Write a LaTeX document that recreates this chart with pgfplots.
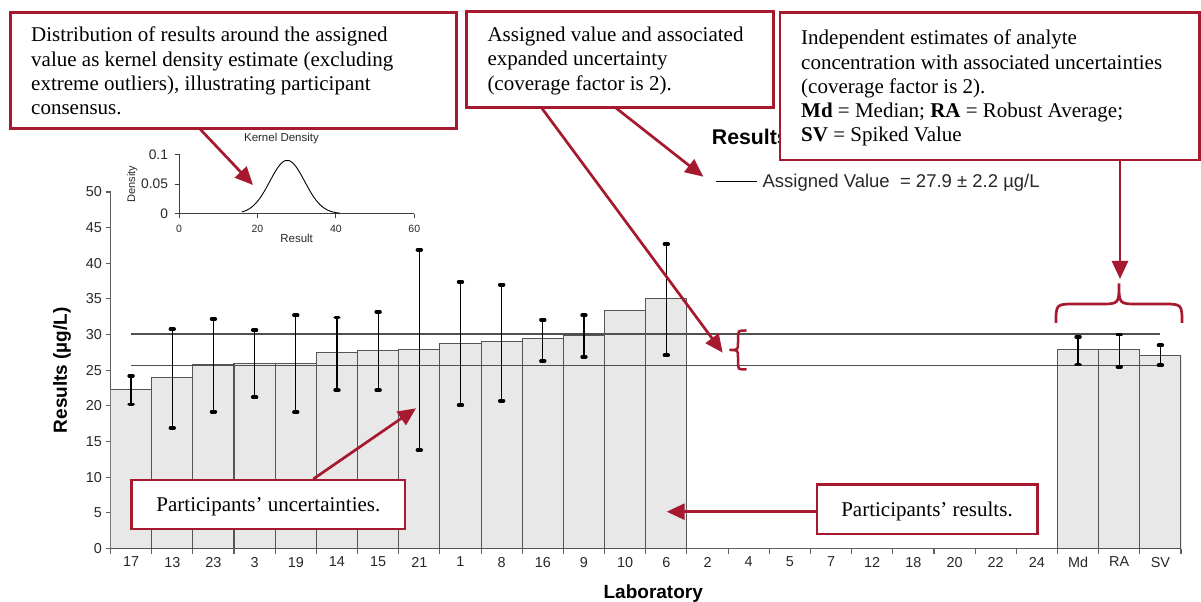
\documentclass[border=0pt]{standalone}
\usepackage{fontspec}
\setmainfont{Liberation Sans}
\newfontfamily\tnr{Liberation Serif}
\usepackage{pgfplots}
\usepackage{pgfplotstable}
\pgfplotsset{compat=1.18}
\usetikzlibrary{arrows.meta}

\definecolor{annored}{RGB}{166,25,46}
\definecolor{barfill}{RGB}{232,232,232}
\definecolor{bargray}{RGB}{85,85,85}
\definecolor{axisgray}{RGB}{95,95,95}
\definecolor{linegray}{RGB}{80,80,80}
\definecolor{ticktext}{RGB}{40,40,40}

% laboratory results, in plotting order (index 0..25)
\pgfplotstableread{
x y
0 22.3
1 24.0
2 25.8
3 26.0
4 26.0
5 27.5
6 27.8
7 27.9
8 28.8
9 29.0
10 29.4
11 29.9
12 33.4
13 35.0
23 27.9
24 27.9
25 27.1
}\barsdata

% expanded uncertainties (upper / lower half-widths)
\pgfplotstableread{
x y ep em
0 22.3 1.9 2.1
1 24.0 6.8 7.1
2 25.8 6.4 6.6
3 26.0 4.6 4.8
4 26.0 6.7 6.9
5 27.5 4.9 5.3
6 27.8 5.4 5.6
7 27.9 14.0 14.1
8 28.8 8.6 8.7
9 29.0 8.0 8.3
10 29.4 2.7 3.1
11 29.9 2.8 3.0
13 35.0 7.7 7.9
23 27.9 1.8 2.1
24 27.9 2.1 2.4
25 27.1 1.4 1.4
}\errdata

% kernel density estimate of the results
\pgfplotstableread{
x d
16 0.0029
17 0.0051
18 0.0086
19 0.0137
20 0.0207
21 0.0297
22 0.0405
23 0.0525
24 0.0647
25 0.0758
26 0.0843
27 0.0892
28 0.0896
29 0.0856
30 0.0777
31 0.0670
32 0.0550
33 0.0428
34 0.0317
35 0.0223
36 0.0149
37 0.0095
38 0.0057
39 0.0033
40 0.0018
41 0.0009
}\kdedata

\begin{document}
\begin{tikzpicture}
\useasboundingbox (0,0) rectangle (1201bp,602bp);

\begin{axis}[
  at={(110.5bp,53.5bp)}, anchor=south west,
  scale only axis, width=1070.5bp, height=356.5bp,
  xmin=-0.5, xmax=25.5, ymin=0, ymax=50,
  axis x line*=bottom, axis y line*=left,
  axis line style={draw=axisgray, line width=1.1bp, -},
  tick align=outside, major tick length=5bp,
  tick style={draw=axisgray, line width=1.1bp},
  xtick={-0.5,0.5,...,25.5},
  x tick label as interval,
  xticklabels={17,13,23,3,19,14,15,21,1,8,16,9,10,6,2,4,5,7,12,18,20,22,24,Md,RA,SV},
  ytick={0,5,...,50},
  /pgf/number format/assume math mode=true,
  tick label style={font=\fontsize{14.4bp}{17bp}\selectfont, text=ticktext},
  xlabel={Laboratory}, ylabel={Results (µg/L)},
  label style={font=\bfseries\fontsize{19bp}{22bp}\selectfont},
  xlabel style={at={(axis description cs:0.507,-0.1389)}, anchor=base},
  ylabel style={at={(axis description cs:-0.0408,0.5)}, anchor=base},
  legend style={at={(0.5647,1.0289)}, anchor=west, draw=none, fill=none,
    inner sep=0pt, outer sep=0pt, column sep=5.3bp, nodes={inner sep=0pt},
    font=\fontsize{18.5bp}{21bp}\selectfont, text=ticktext},
  legend image code/.code={\draw[black, line width=1.6bp] (0bp,0bp) -- (40.7bp,0bp);},
]
\addplot[forget plot, ybar, bar width=1, fill=barfill, draw=bargray, line width=1.1bp]
  table[x=x, y=y] {\barsdata};
\addplot[draw=linegray, line width=1.3bp] coordinates {(0,30.1) (25,30.1)};
\addlegendentry{Assigned Value\ \ = 27.9 ± 2.2 µg/L}
\addplot[forget plot, draw=linegray, line width=1.3bp] coordinates {(0,25.7) (25,25.7)};
\addplot[forget plot, draw=none, mark=none,
  error bars/.cd, y dir=both, y explicit,
  error bar style={draw=black, line width=1.2bp},
  error mark=|, error mark options={draw=black, line width=3.8bp, line cap=round, mark size=1.8bp}]
  table[x=x, y=y, y error plus=ep, y error minus=em] {\errdata};
\end{axis}

% inset: kernel density
\begin{axis}[
  at={(179bp,388.3bp)}, anchor=south west,
  scale only axis, width=235.3bp, height=59.4bp,
  xmin=0, xmax=60, ymin=0, ymax=0.1,
  axis x line*=bottom, axis y line*=left,
  axis line style={draw=black!75, line width=0.9bp, -},
  tick align=outside, major tick length=4.5bp,
  tick style={draw=black!75, line width=0.9bp},
  xtick={0,20,40,60}, ytick={0,0.05,0.1}, yticklabels={0,0.05,0.1},
  /pgf/number format/assume math mode=true,
  x tick label style={font=\fontsize{10.5bp}{12bp}\selectfont, text=ticktext, yshift=-3bp},
  y tick label style={font=\fontsize{13.8bp}{16bp}\selectfont, text=ticktext, xshift=-3bp},
  title={Kernel Density},
  title style={at={(axis description cs:0.4356,1.12)}, anchor=base,
    font=\fontsize{11.5bp}{13bp}\selectfont, text=ticktext},
  xlabel={Result},
  xlabel style={at={(axis description cs:0.5,-0.485)}, anchor=base,
    font=\fontsize{11.5bp}{13bp}\selectfont, text=ticktext},
  ylabel={Density},
  ylabel style={at={(axis description cs:-0.187,0.5)}, anchor=base,
    font=\fontsize{11bp}{13bp}\selectfont, text=ticktext},
]
\addplot[black, line width=0.9bp, smooth] table[x=x, y=d] {\kdedata};
\end{axis}

% callouts
\begin{scope}[yshift=602bp, x=1bp, y=-1bp]
  \tikzset{
    box/.style={draw=annored, line width=2.7bp, fill=white},
    arr/.style={draw=annored, line width=2.7bp, -{Triangle[length=18bp,width=16bp]}},
    txt/.style={anchor=base west, inner sep=0pt, font=\tnr\fontsize{21bp}{24bp}\selectfont},
  }
  \node[anchor=base west, inner sep=0pt, font=\bfseries\fontsize{21.3bp}{24bp}\selectfont]
    at (711.7,145) {Results};

  \draw[arr] (200,129) -- (253,185);
  \draw[arr] (541.7,108) -- (722.7,352.7);
  \draw[arr] (616,108) -- (703.3,176.7);
  \draw[arr] (1120,161) -- (1120,279);
  \draw[arr] (313.3,479) -- (416,408.3);
  \draw[arr] (816,511.7) -- (666.7,511.7);

  \draw[draw=annored, line width=2.5bp]
    (746.5,330.5) .. controls (738,330.5) .. (738,338) -- (738,343)
    .. controls (738,350) .. (729.5,350) .. controls (738,350) .. (738,357)
    -- (738,362) .. controls (738,369.5) .. (746.5,369.5);
  \draw[draw=annored, line width=2.7bp]
    (1056,323) .. controls (1056,304) .. (1076,304) -- (1100,304)
    .. controls (1119,304) .. (1119,283.5) .. controls (1119,304) .. (1138,304)
    -- (1162,304) .. controls (1182,304) .. (1182,323);

  \draw[box] (10.5,12.5) rectangle (456.5,128.5);
  \node[txt] at (31,41.7) {Distribution of results around the assigned};
  \node[txt] at (31,66.1) {value as kernel density estimate (excluding};
  \node[txt] at (31,90.5) {extreme outliers), illustrating participant};
  \node[txt] at (31,114.9) {consensus.};

  \draw[box] (466.5,11.5) rectangle (773.5,107.5);
  \node[txt] at (487.3,41.7) {Assigned value and associated};
  \node[txt] at (487.3,65.9) {expanded uncertainty};
  \node[txt] at (487.3,90.1) {(coverage factor is 2).};

  \draw[box] (780,12.5) rectangle (1199.5,160);
  \node[txt] at (801,45) {Independent estimates of analyte};
  \node[txt] at (801,69.2) {concentration with associated uncertainties};
  \node[txt] at (801,93.4) {(coverage factor is 2).};
  \node[txt] at (801,117.6) {\textbf{Md} = Median; \textbf{RA} = Robust Average;};
  \node[txt] at (801,141.8) {\textbf{SV} = Spiked Value};

  \draw[box] (131.5,480) rectangle (405,529);
  \node[txt, anchor=base] at (268.4,511.7) {Participants’ uncertainties.};

  \draw[box] (817,484.5) rectangle (1037.5,534);
  \node[txt, anchor=base] at (927,516.7) {Participants’ results.};
\end{scope}
\end{tikzpicture}
\end{document}
